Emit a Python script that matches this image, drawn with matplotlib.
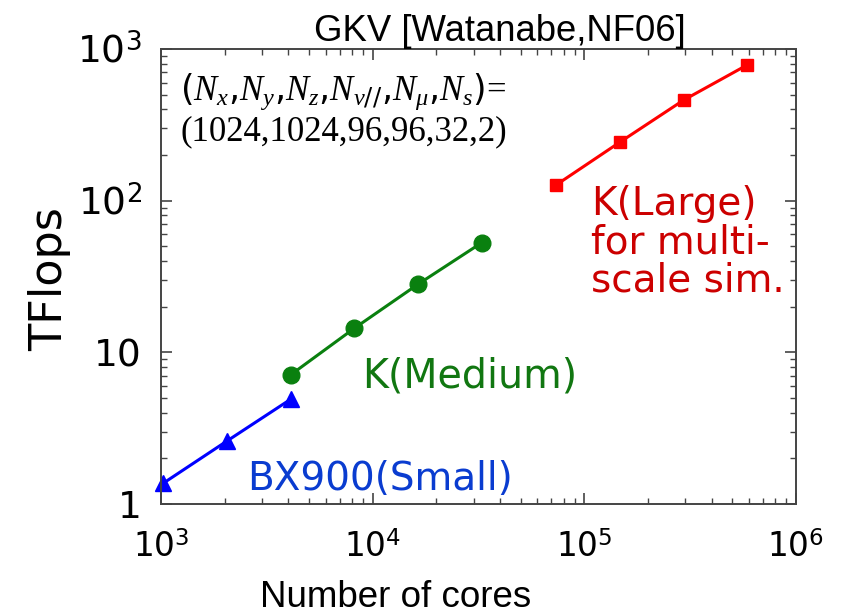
import matplotlib
matplotlib.use("Agg")
import matplotlib.pyplot as plt
from matplotlib.ticker import FixedLocator, FixedFormatter, LogLocator, NullFormatter

# ---- data ----
cores_small = [1024, 2048, 4096]
tflops_small = [1.37, 2.6, 4.9]
cores_medium = [4096, 8192, 16384, 32768]
tflops_medium = [7.1, 14.4, 28.1, 52.8]
cores_large = [73728, 147456, 294912, 589824]
tflops_large = [127, 243, 460, 785]

xtick_vals = [1e3, 1e4, 1e5, 1e6]
xtick_labels = [r"$10^{3}$", r"$10^{4}$", r"$10^{5}$", r"$10^{6}$"]
ytick_vals = [1, 10, 100, 1000]
ytick_labels = ["1", "10", r"$10^{2}$", r"$10^{3}$"]

title = "GKV [Watanabe,NF06]"
xlabel = "Number of cores"
ylabel = "TFlops"

narrow = 'Liberation Sans'

plt.rcParams['mathtext.fontset'] = 'custom'
plt.rcParams['mathtext.it'] = 'Liberation Serif:italic'
plt.rcParams['font.family'] = ['DejaVu Sans']

fig = plt.figure(figsize=(8.43, 6.16), dpi=100)
ax = fig.add_axes([0.191, 0.1818, 0.753, 0.7387])

ax.plot(cores_small, tflops_small, color=(0, 0, 1), lw=2.2, marker='^', ms=11, clip_on=False)
ax.plot(cores_medium, tflops_medium, color=(0.04, 0.5, 0.06), lw=2.2, marker='o', ms=12, clip_on=False)
ax.plot(cores_large, tflops_large, color=(1, 0, 0), lw=2.2, marker='s', ms=8.5, clip_on=False)

ax.set_xscale('log')
ax.set_yscale('log')
ax.set_xlim(1e3, 1e6)
ax.set_ylim(1, 1e3)

ax.xaxis.set_major_locator(FixedLocator(xtick_vals))
ax.xaxis.set_major_formatter(FixedFormatter(xtick_labels))
ax.yaxis.set_major_locator(FixedLocator(ytick_vals))
ax.yaxis.set_major_formatter(FixedFormatter(ytick_labels))
ax.xaxis.set_minor_locator(LogLocator(base=10, subs=range(2, 10)))
ax.yaxis.set_minor_locator(LogLocator(base=10, subs=range(2, 10)))
ax.xaxis.set_minor_formatter(NullFormatter())
ax.yaxis.set_minor_formatter(NullFormatter())

ax.tick_params(which='both', direction='in', top=True, right=True, color='#444444')
ax.tick_params(which='major', length=8, width=1.2)
ax.tick_params(which='minor', length=4.5, width=1.0)
ax.tick_params(axis='y', which='major', labelsize=27, pad=14)
ax.tick_params(axis='x', which='major', labelsize=23.5, pad=20)
for lab in ax.get_xticklabels():
    lab.set_family(narrow)
for s in ax.spines.values():
    s.set_color('#444444')
    s.set_linewidth(1.4)

ax.set_title(title, fontsize=26.3, family='Liberation Sans', pad=5, x=0.534)
ax.set_ylabel(ylabel, fontsize=32)
ax.yaxis.set_label_coords(-0.142, 0.495)
ax.set_xlabel(xlabel, fontsize=26.5, family=narrow)
ax.xaxis.set_label_coords(0.37, -0.166)

ax.text(0.03, 0.905, r"$(N_x{,}N_y{,}N_z{,}N_{v//}{,}N_\mu{,}N_s)$=", transform=ax.transAxes,
        fontsize=25, family='Liberation Serif', va='center', ha='left')
ax.text(0.03, 0.817, "(1024,1024,96,96,32,2)", transform=ax.transAxes,
        fontsize=25, family='Liberation Serif', va='center', ha='left')

ax.text(0.486, 0.281, "K(Medium)", transform=ax.transAxes, color='#117711',
        fontsize=28.5, ha='center', va='center')
ax.text(0.345, 0.056, "BX900(Small)", transform=ax.transAxes, color='#0a3cd0',
        fontsize=28, ha='center', va='center')
ax.text(0.678, 0.575, "K(Large)\nfor multi-\nscale sim.", transform=ax.transAxes, color='#cc0000',
        fontsize=28, ha='left', va='center', linespacing=1.0)

fig.savefig("out.png", dpi=100)
